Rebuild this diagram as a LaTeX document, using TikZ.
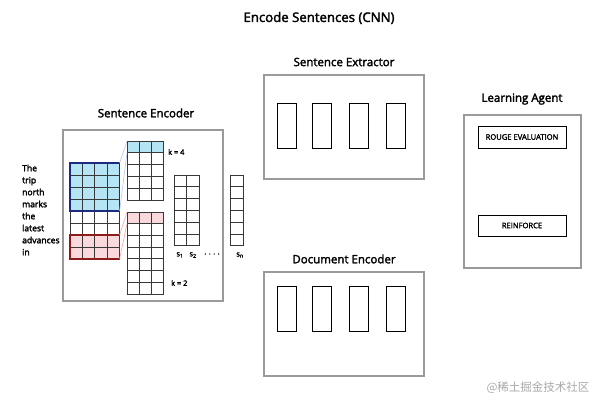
\documentclass[tikz,border=0pt]{standalone}
\usepackage{fontspec}
\setmainfont{Open Sans}
\newfontfamily\headfont[FakeBold=2.4]{Open Sans}
\newfontfamily\cjkfont{Noto Sans CJK SC}
\usetikzlibrary{positioning}
\definecolor{panelgray}{HTML}{9A9A9A}
\definecolor{cellblue}{HTML}{B5E5F5}
\definecolor{cellpink}{HTML}{F9D9DC}
\definecolor{edgeblue}{HTML}{1C2A80}
\definecolor{edgered}{HTML}{8E1B1B}
\definecolor{lineblue}{HTML}{B8C4F0}
\definecolor{linepink}{HTML}{F2A8AC}
\definecolor{markgray}{HTML}{A8A8A8}
\tikzset{
    panel/.style={draw=panelgray, line width=1.5pt, inner sep=0pt},
    slot/.style={draw=black, line width=0.9pt, minimum width=19pt, minimum height=45pt, inner sep=0pt},
    tagbox/.style={draw=black, line width=0.9pt, minimum width=88pt, minimum height=22pt, inner sep=0pt,
        font=\fontsize{7.6}{9}\selectfont\headfont},
    heading/.style={font=\fontsize{11.5}{13}\selectfont\headfont, inner sep=0pt},
    cell/.style={draw=black!78, line width=0.8pt},
    small/.style={font=\fontsize{7.4}{9}\selectfont\headfont, inner sep=0pt}
}

\begin{document}
\begin{tikzpicture}[x=1pt, y=-1pt]
    \useasboundingbox (0,0) rectangle (600,400);

    \node[font=\fontsize{13.2}{15}\selectfont\headfont, inner sep=0pt] (title) at (319,18) {Encode Sentences (CNN)};

    % sentence encoder
    \node[panel, minimum width=160pt, minimum height=171pt] (encoder) at (143,215.5) {};
    \node[heading] (encodertitle) at (146,113) {Sentence Encoder};

    \node[anchor=west, align=left, inner sep=0pt, font=\fontsize{8.6}{12}\selectfont\headfont] (words) at (22,210)
        {The\\trip\\north\\marks\\the\\latest\\advances\\in};

    \fill[cellblue] (70,163) rectangle (119.6,211);
    \fill[cellpink] (70,235) rectangle (119.6,259);
    \foreach \i in {0,...,3}
        \foreach \j in {0,...,7}
            \draw[cell] (70+\i*12.4,163+\j*12) rectangle ++(12.4,12);
    \draw[edgeblue, line width=1.1pt] (70,163) rectangle (119.6,211);
    \draw[edgered, line width=1.1pt] (70,235) rectangle (119.6,259);

    \fill[cellblue] (127,141) rectangle (163,152.8);
    \foreach \i in {0,1,2}
        \foreach \j in {0,...,4}
            \draw[cell] (127+\i*12,141+\j*11.8) rectangle ++(12,11.8);

    \fill[cellpink] (127,212) rectangle (163,223.7);
    \foreach \i in {0,1,2}
        \foreach \j in {0,...,6}
            \draw[cell] (127+\i*12,212+\j*11.7) rectangle ++(12,11.7);

    \coordinate (inblue1) at (119.6,163);
    \coordinate (inblue2) at (119.6,211);
    \coordinate (inpink1) at (119.6,235);
    \coordinate (inpink2) at (119.6,259);
    \coordinate (kfour1) at (127,141);
    \coordinate (kfour2) at (127,152.8);
    \coordinate (ktwo1) at (127,212);
    \coordinate (ktwo2) at (127,223.7);
    \draw[lineblue, line width=0.6pt]
    (inblue1) -- (kfour1)
    (inblue2) -- (kfour2);
    \draw[linepink, line width=0.6pt]
    (inpink1) -- (ktwo1)
    (inpink2) -- (ktwo2);

    \node[small, anchor=west] (kfour) at (168,152) {k = 4};
    \node[small, anchor=west] (ktwo) at (171,283) {k = 2};

    \foreach \i in {0,1}
        \foreach \j in {0,...,5}
            \draw[cell] (174+\i*12.5,175+\j*11.8) rectangle ++(12.5,11.8);
    \foreach \j in {0,...,5}
        \draw[cell] (230,175+\j*11.8) rectangle ++(13,11.8);

    \node[small] (sone) at (180,255) {s\textsubscript{1}};
    \node[small] (stwo) at (193,255) {s\textsubscript{2}};
    \node[small] (sdots) at (212,254) {.\,\,.\,\,.\,\,.};
    \node[small] (sn) at (240,255) {s\textsubscript{n}};

    % sentence extractor
    \node[panel, minimum width=160pt, minimum height=104pt] (extractor) at (344,127) {};
    \node[heading] (extractortitle) at (344,62) {Sentence Extractor};
    \foreach \x [count=\k] in {286.5,322,359,396}
        \node[slot] (ext\k) at (\x,125.5) {};

    % document encoder
    \node[panel, minimum width=160pt, minimum height=104pt] (document) at (344,324) {};
    \node[heading] (documenttitle) at (344,259) {Document Encoder};
    \foreach \x [count=\k] in {286.5,322,359,396}
        \node[slot] (doc\k) at (\x,308.5) {};

    % learning agent
    \node[panel, minimum width=117pt, minimum height=153pt] (agent) at (522.5,191.5) {};
    \node[heading] (agenttitle) at (522,99) {Learning Agent};
    \node[tagbox] (rouge) at (522,137) {ROUGE EVALUATION};
    \node[tagbox, minimum height=21pt] (reinforce) at (522,225.5) {REINFORCE};

    \node[font=\fontsize{11.5}{13}\selectfont\cjkfont, text=markgray, inner sep=0pt] (mark) at (538,388) {@稀土掘金技术社区};
\end{tikzpicture}
\end{document}
